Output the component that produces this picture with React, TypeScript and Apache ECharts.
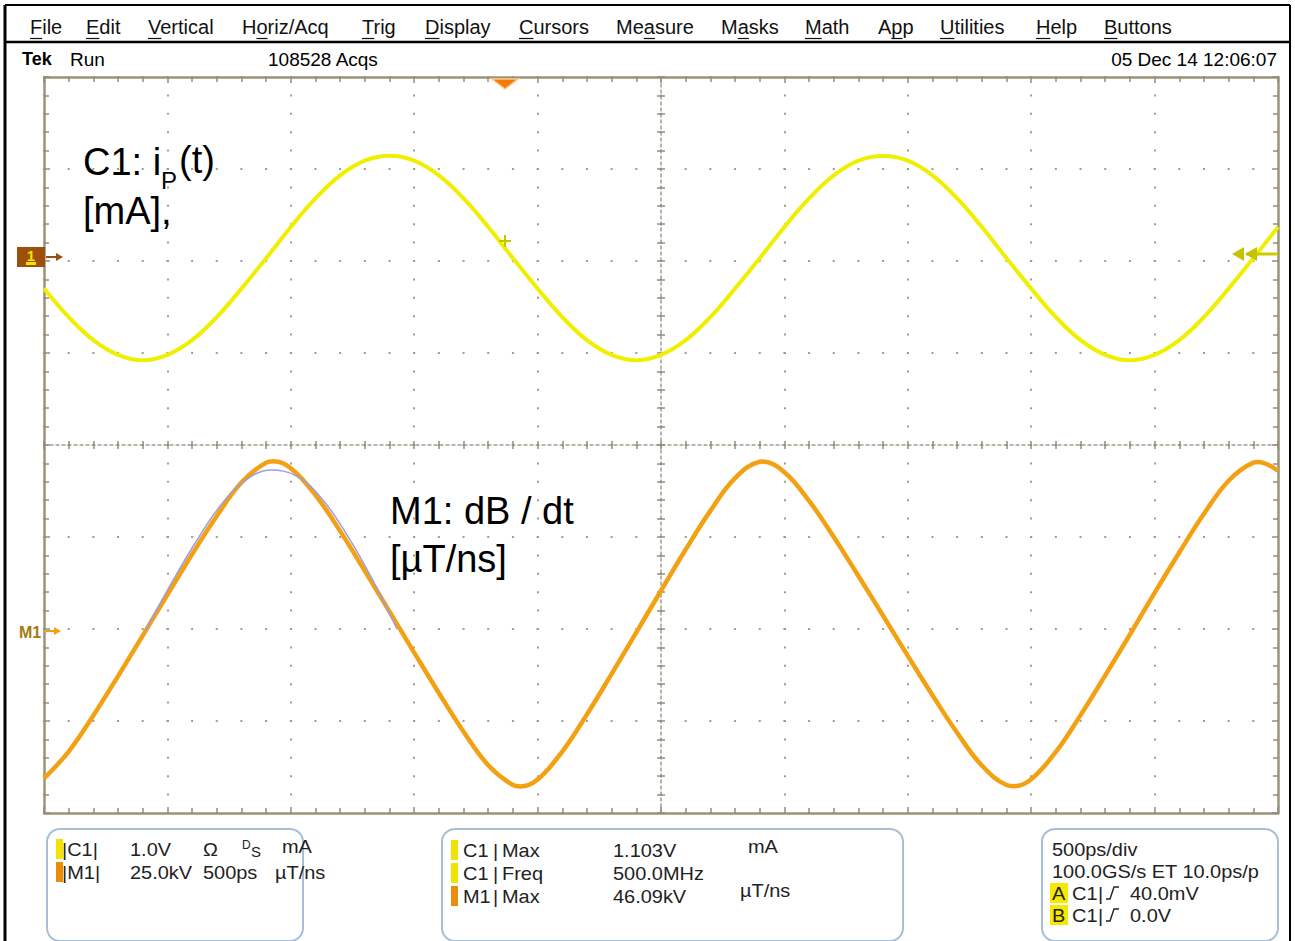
import React, { useEffect, useRef } from "react";
import * as echarts from "echarts";

// ---- acquisition record: 500 ps/div, time in ns relative to screen centre ----
const TIME_NS = [
  -2.5, -2.4, -2.3, -2.2, -2.1, -2.0, -1.9, -1.8, -1.7, -1.6,
  -1.5, -1.4, -1.3, -1.2, -1.1, -1.0, -0.9, -0.8, -0.7, -0.6,
  -0.5, -0.4, -0.3, -0.2, -0.1, 0.0, 0.1, 0.2, 0.3, 0.4,
  0.5, 0.6, 0.7, 0.8, 0.9, 1.0, 1.1, 1.2, 1.3, 1.4,
  1.5, 1.6, 1.7, 1.8, 1.9, 2.0, 2.1, 2.2, 2.3, 2.4,
  2.5,
];

// C1: probe current i_P(t), volts on the channel
const C1_VOLTS = [
  -0.34, -0.65, -0.9, -1.06, -1.12, -1.06, -0.9, -0.65, -0.34, -0.01,
  0.33, 0.64, 0.89, 1.05, 1.103, 1.05, 0.89, 0.64, 0.33, -0.01,
  -0.34, -0.65, -0.9, -1.06, -1.12, -1.06, -0.9, -0.65, -0.34, -0.01,
  0.33, 0.64, 0.89, 1.05, 1.1, 1.05, 0.89, 0.64, 0.33, -0.01,
  -0.34, -0.65, -0.9, -1.06, -1.12, -1.06, -0.9, -0.65, -0.34, -0.01,
  0.33,
];

// M1: dB/dt math waveform, kV (extra points at the turning points)
const M1_TIME_NS = [
  -2.5, -2.4, -2.3, -2.2, -2.1, -2.0, -1.9, -1.8, -1.7, -1.6, -1.57,
  -1.5, -1.4, -1.3, -1.2, -1.1, -1.0, -0.9, -0.8, -0.7, -0.6, -0.57,
  -0.5, -0.4, -0.3, -0.2, -0.1, 0.0, 0.1, 0.2, 0.3, 0.4, 0.41,
  0.5, 0.6, 0.7, 0.8, 0.9, 1.0, 1.1, 1.2, 1.3, 1.4, 1.43,
  1.5, 1.6, 1.7, 1.8, 1.9, 2.0, 2.1, 2.2, 2.3, 2.4, 2.42,
  2.5,
];
const M1_KV = [
  -40.1, -32.8, -23.0, -12.3, -1.3, 9.8, 20.8, 31.2, 40.3, 45.7, 46.09,
  44.2, 36.9, 27.1, 16.3, 5.2, -5.9, -16.9, -27.4, -36.5, -41.9, -42.3,
  -40.4, -32.8, -22.7, -11.7, -0.4, 10.9, 22.1, 32.6, 41.5, 45.95, 46.0,
  43.1, 35.3, 25.5, 14.9, 4.1, -6.8, -17.5, -27.7, -36.6, -41.9, -42.2,
  -40.3, -32.9, -22.9, -12.1, -1.0, 10.3, 21.3, 31.8, 40.8, 45.7, 45.9,
  43.5,
];

// sine fit over the first M1 half-cycle
const FIT_TIME_NS = [-2.09, -1.99, -1.89, -1.79, -1.69, -1.58, -1.48, -1.38, -1.28, -1.18, -1.07];
const FIT_KV = [0, 12.2, 23.6, 33.6, 40.6, 43.7, 42.2, 36.4, 26.9, 15.3, 0.5];

// vertical settings
const C1_SCALE_V = 1.0;
const C1_OFFSET_DIV = 2.04;
const M1_SCALE_KV = 25.0;
const M1_OFFSET_DIV = -2.02;

// screen texts
const MENU_LABELS = ["File", "Edit", "Vertical", "Horiz/Acq", "Trig", "Display", "Cursors", "Measure", "Masks", "Math", "App", "Utilities", "Help", "Buttons"];
const MENU_MNEMONIC = [0, 0, 0, 1, 0, 0, 0, 2, 1, 0, 1, 0, 0, 0];
const STATUS_STATE = "Run";
const STATUS_ACQS = "108528 Acqs";
const STATUS_STAMP = "05 Dec 14 12:06:07";

const CH_NAMES = ["C1", "M1"];
const CH_SCALES = ["1.0V", "25.0kV"];
const CH_UNITS = ["mA", "µT/ns"];
const MEAS_SOURCES = ["C1", "C1", "M1"];
const MEAS_NAMES = ["Max", "Freq", "Max"];
const MEAS_VALUES = ["1.103V", "500.0MHz", "46.09kV"];
const HORIZ_LINES = ["500ps/div", "100.0GS/s ET 10.0ps/p"];
const TRIG_NAMES = ["A", "B"];
const TRIG_LEVELS = ["40.0mV", "0.0V"];

// ---- layout / style ----
const W = 1295;
const H = 941;
const GRID = { left: 44, top: 77, width: 1234, height: 736 };
const FONT = '"Liberation Sans", Arial, Helvetica, sans-serif';
const YELLOW = "#f1ef00";
const ORANGE = "#f3a112";
const FIT_BLUE = "#9c9ce6";
const BORDER = "#9b9479";
const DOT = "#a19d8e";
const TICK = "#908c7c";
const BOX_STROKE = "#a9bfd6";

type TxtOpt = { size?: number; color?: string; weight?: string; align?: string; scaleX?: number; z?: number };
const txt = (text: string, x: number, y: number, o: TxtOpt = {}) => ({
  type: "text",
  x,
  y,
  scaleX: o.scaleX ?? 1,
  z: o.z ?? 50,
  style: {
    text,
    x: 0,
    y: 0,
    fill: o.color ?? "#111",
    font: `${o.weight ?? "normal"} ${o.size ?? 19}px ${FONT}`,
    align: o.align ?? "left",
    verticalAlign: "middle",
    textAlign: o.align ?? "left",
    textVerticalAlign: "middle",
  },
});
const seg = (x1: number, y1: number, x2: number, y2: number, stroke: string, lineWidth = 1, z = 50) => ({
  type: "line",
  z,
  shape: { x1, y1, x2, y2 },
  style: { stroke, lineWidth },
});
const box = (x: number, y: number, w: number, h: number, fill: string, extra: any = {}) => ({
  type: "rect",
  z: extra.z ?? 40,
  shape: { x, y, width: w, height: h, r: extra.r ?? 0 },
  style: { fill, stroke: extra.stroke ?? "none", lineWidth: extra.lineWidth ?? 0 },
});
const poly = (points: number[][], fill: string, z = 55) => ({ type: "polygon", z, shape: { points }, style: { fill } });

function buildGraphics() {
  const els: any[] = [];
  const ctx = document.createElement("canvas").getContext("2d")!;
  ctx.font = `20px ${FONT}`;
  const measure = (s: string) => ctx.measureText(s).width;

  // outer frame and menu separator
  els.push(seg(5, 5, 1290, 5, "#000", 2));
  els.push(seg(5, 5, 5, H, "#000", 3));
  els.push(seg(1290, 5, 1290, H, "#000", 2));
  els.push(seg(5, 42, 1290, 42, "#000", 2.5));

  // menu bar
  const menuX = [30, 86, 148, 242, 362, 425, 519, 616, 721, 805, 878, 940, 1036, 1104];
  MENU_LABELS.forEach((label, i) => {
    const x = menuX[i];
    els.push(txt(label, x, 27, { size: 20, color: "#111" }));
    const k = MENU_MNEMONIC[i];
    const ux = x + measure(label.slice(0, k));
    const uw = measure(label[k]);
    els.push(seg(ux, 38.5, ux + uw, 38.5, "#111", 1.2));
  });

  // status line
  els.push(txt("Tek", 22, 59, { size: 18, weight: "bold", color: "#000" }));
  els.push(txt(STATUS_STATE, 70, 59, { size: 19, color: "#000" }));
  els.push(txt(STATUS_ACQS, 268, 59, { size: 19, color: "#000" }));
  els.push(txt(STATUS_STAMP, 1277, 59, { size: 19, color: "#000", align: "right" }));

  // channel 1 ground marker
  els.push(box(17, 247, 28, 20, "#9d500c", { z: 55 }));
  els.push(txt("1", 31, 255, { size: 15, weight: "bold", color: "#f2e200", align: "center", z: 56 }));
  els.push(box(26, 262, 10, 3, "#f2e200", { z: 56 }));
  els.push(seg(46, 257, 57, 257, "#9d500c", 2, 55));
  els.push(poly([[56, 253], [63, 257], [56, 261]], "#9d500c"));

  // math 1 ground marker
  els.push(txt("M1", 19, 632, { size: 16, weight: "bold", color: "#a27c12" }));
  els.push(seg(44, 631, 55, 631, ORANGE, 2, 55));
  els.push(poly([[54, 627], [61, 631], [54, 635]], ORANGE));

  // horizontal trigger position
  els.push({ type: "polygon", z: 55, shape: { points: [[492, 79], [518, 79], [505, 89]] }, style: { fill: "#f47a06", stroke: "#fbc88a", lineWidth: 1.5 } });

  // trigger level marker on the right edge
  els.push(seg(1246, 254, 1278, 254, "#cccb00", 3, 55));
  els.push(poly([[1232, 254], [1244, 247], [1244, 261]], "#c4c300"));
  els.push(poly([[1245, 254], [1257, 247], [1257, 261]], "#c4c300"));

  // trigger point on the C1 trace
  els.push(seg(499, 241, 511, 241, "#c9c400", 2, 55));
  els.push(seg(505, 235, 505, 247, "#c9c400", 2, 55));

  // waveform annotations
  const big = { size: 38, color: "#000" };
  els.push(txt("C1: i", 83, 162, big));
  els.push(txt("P", 161, 180, { size: 24, color: "#000" }));
  els.push(txt("(t)", 179, 160, big));
  els.push(txt("[mA],", 83, 211, big));
  els.push(txt("M1: dB / dt", 390, 511, big));
  els.push(txt("[µT/ns]", 390, 559, big));

  // readout boxes
  const boxStyle = { r: 13, stroke: BOX_STROKE, lineWidth: 2, z: 40 };
  els.push(box(47, 829, 256, 112, "#fff", boxStyle));
  els.push(box(442, 829, 461, 112, "#fff", boxStyle));
  els.push(box(1042, 829, 236, 112, "#fff", boxStyle));

  const rd = { size: 19, color: "#222", scaleX: 1.05 };
  const swatch = (x: number, yc: number, c: string) => els.push(box(x, yc - 10, 7, 20, c, { z: 45 }));

  // channel readout
  const rowsA = [849, 872];
  CH_NAMES.forEach((name, i) => {
    const y = rowsA[i];
    swatch(56, y, i === 0 ? "#f1e400" : "#ea8c0c");
    els.push(txt("|" + name + "|", 62, y, rd));
    els.push(txt(CH_SCALES[i], 130, y, rd));
  });
  els.push(txt("Ω", 203, 849, rd));
  els.push(txt("D", 242, 845, { size: 12, color: "#222" }));
  els.push(txt("S", 251, 851, { size: 15, color: "#222" }));
  els.push(txt(CH_UNITS[0], 282, 846, rd));
  els.push(txt("500ps", 203, 872, rd));
  els.push(txt(CH_UNITS[1], 275, 872, rd));

  // measurements
  const rowsB = [850, 873, 896];
  MEAS_SOURCES.forEach((src, i) => {
    const y = rowsB[i];
    swatch(451, y, src === "C1" ? "#f1e400" : "#ea8c0c");
    els.push(txt(src, 463, y, rd));
    els.push(txt("|", 493, y, rd));
    els.push(txt(MEAS_NAMES[i], 502, y, rd));
    els.push(txt(MEAS_VALUES[i], 613, y, rd));
  });
  els.push(txt(CH_UNITS[0], 748, 846, rd));
  els.push(txt(CH_UNITS[1], 740, 890, rd));

  // horizontal / trigger readout
  els.push(txt(HORIZ_LINES[0], 1052, 849, rd));
  els.push(txt(HORIZ_LINES[1], 1052, 871, rd));
  const rowsC = [893, 915];
  TRIG_NAMES.forEach((name, i) => {
    const y = rowsC[i];
    els.push(box(1050, y - 10, 18, 20, "#f5e900", { z: 45 }));
    els.push(txt(name, 1052, y, rd));
    els.push(txt("C1", 1072, y, rd));
    els.push(txt("|", 1098, y, rd));
    els.push({
      type: "polyline",
      z: 50,
      shape: { points: [[1106, y + 6], [1110, y + 6], [1114, y - 6], [1119, y - 6]] },
      style: { stroke: "#222", lineWidth: 1.4, fill: "none" },
    });
    els.push(txt(TRIG_LEVELS[i], 1130, y, rd));
  });

  return els;
}

const toXY = (times: number[], values: number[], scale: number, offset: number) =>
  times.map((t, i) => [t, values[i] / scale + offset]);

const borderAxisX = (position: string, split: boolean) => ({
  type: "value",
  min: -2.5,
  max: 2.5,
  interval: 0.5,
  position,
  axisLine: { show: true, onZero: false, lineStyle: { color: BORDER, width: 2.5 } },
  axisTick: { show: true, inside: true, length: 6, lineStyle: { color: TICK, width: 1.5 } },
  minorTick: { show: true, splitNumber: 5, length: 5, lineStyle: { color: TICK, width: 1.5 } },
  axisLabel: { show: false },
  splitLine: split
    ? { show: true, lineStyle: { color: DOT, width: 2, type: [2, 16.4], dashOffset: 1 } }
    : { show: false },
  minorSplitLine: { show: false },
});

const borderAxisY = (position: string, split: boolean) => ({
  type: "value",
  min: -4,
  max: 4,
  interval: 1,
  position,
  axisLine: { show: true, onZero: false, lineStyle: { color: BORDER, width: 2.5 } },
  axisTick: { show: true, inside: true, length: 6, lineStyle: { color: TICK, width: 1.5 } },
  minorTick: { show: true, splitNumber: 5, length: 5, lineStyle: { color: TICK, width: 1.5 } },
  axisLabel: { show: false },
  splitLine: split
    ? { show: true, lineStyle: { color: DOT, width: 2, type: [2, 22.68], dashOffset: 1 } }
    : { show: false },
  minorSplitLine: { show: false },
});

const centreAxis = (kind: "x" | "y", inside: boolean, showLine: boolean) => ({
  type: "value",
  min: kind === "x" ? -2.5 : -4,
  max: kind === "x" ? 2.5 : 4,
  interval: kind === "x" ? 0.5 : 1,
  position: kind === "x" ? "bottom" : "left",
  axisLine: {
    show: showLine,
    onZero: true,
    onZeroAxisIndex: 0,
    lineStyle: { color: DOT, width: 1.5, type: [3, 3] },
  },
  axisTick: { show: true, inside, length: 4, lineStyle: { color: TICK, width: 1.5 } },
  minorTick: { show: true, splitNumber: 5, length: 4, lineStyle: { color: TICK, width: 1.5 } },
  axisLabel: { show: false },
  splitLine: { show: false },
  minorSplitLine: { show: false },
});

export default function App() {
  const ref = useRef<HTMLDivElement>(null);

  useEffect(() => {
    if (!ref.current) return;
    const chart = echarts.init(ref.current, undefined, { renderer: "svg" });
    chart.setOption({
      animation: false,
      backgroundColor: "#ffffff",
      grid: { left: GRID.left, top: GRID.top, width: GRID.width, height: GRID.height, containLabel: false },
      xAxis: [
        borderAxisX("bottom", true),
        borderAxisX("top", false),
        centreAxis("x", true, true),
        centreAxis("x", false, false),
      ],
      yAxis: [
        borderAxisY("left", true),
        borderAxisY("right", false),
        centreAxis("y", true, true),
        centreAxis("y", false, false),
      ],
      series: [
        {
          name: "C1",
          type: "line",
          data: toXY(TIME_NS, C1_VOLTS, C1_SCALE_V, C1_OFFSET_DIV),
          smooth: 0.4,
          showSymbol: false,
          lineStyle: { color: YELLOW, width: 4 },
          z: 3,
          silent: true,
        },
        {
          name: "M1",
          type: "line",
          data: toXY(M1_TIME_NS, M1_KV, M1_SCALE_KV, M1_OFFSET_DIV),
          smooth: 0.4,
          showSymbol: false,
          lineStyle: { color: ORANGE, width: 4.5 },
          z: 3,
          silent: true,
        },
        {
          name: "fit",
          type: "line",
          data: toXY(FIT_TIME_NS, FIT_KV, M1_SCALE_KV, M1_OFFSET_DIV),
          smooth: 0.4,
          showSymbol: false,
          lineStyle: { color: FIT_BLUE, width: 1.5 },
          z: 4,
          silent: true,
        },
      ],
      graphic: { elements: buildGraphics() },
    });
    return () => chart.dispose();
  }, []);

  return (
    <div
      ref={ref}
      style={{ position: "absolute", left: 0, top: 0, width: W, height: H, background: "#fff" }}
    />
  );
}
